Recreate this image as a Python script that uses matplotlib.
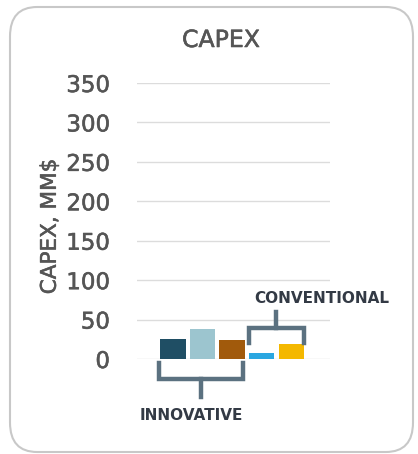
import matplotlib as mpl
mpl.use('Agg')
import matplotlib.pyplot as plt
import matplotlib.patheffects as pe
from matplotlib.patches import FancyBboxPatch

# CAPEX per option, MM$
groups = ['INNOVATIVE', 'CONVENTIONAL']
capex_innovative = [25, 38, 24]
capex_conventional = [8, 19]
colors_innovative = ['#1f4e64', '#9cc5cf', '#a15a0c']
colors_conventional = ['#2aa7e1', '#f4b800']
yticks = [0, 50, 100, 150, 200, 250, 300, 350]

W, H = 418, 454
fig = plt.figure(figsize=(W / 100, H / 100), dpi=100)
fig.patch.set_facecolor('white')

# slightly heavier strokes for the grey labels
txt_col = '#555555'
heavy = [pe.withStroke(linewidth=0.4, foreground=txt_col)]

# rounded card behind the chart
card = FancyBboxPatch((10 / W, 2 / H), 403 / W, 445 / H,
                      boxstyle='round,pad=0,rounding_size=0.065',
                      transform=fig.transFigure, facecolor='none',
                      edgecolor='#c8c8c8', linewidth=1.5, zorder=-1)
fig.patches.append(card)

ax = fig.add_axes([137 / W, (H - 359) / H, 193 / W, 276 / H])
ax.set_facecolor('none')

values = capex_innovative + capex_conventional
colors = colors_innovative + colors_conventional
xs = list(range(len(values)))
bw = 0.85
ax.bar(xs, values, width=bw, color=colors, zorder=3)

ax.set_xlim(-1.22, 5.32)
ax.set_ylim(0, 350)
ax.set_yticks(yticks)
ax.set_xticks([])
ax.grid(axis='y', color='#dcdcdc', linewidth=1, zorder=0)
for s in ax.spines.values():
    s.set_visible(False)
ax.tick_params(axis='y', length=0, pad=19.5, labelsize=16.5, labelcolor=txt_col)
for lab in ax.get_yticklabels():
    lab.set_path_effects(heavy)
ax.set_ylabel('CAPEX, MM$', fontsize=15.5, color=txt_col, path_effects=heavy)
ax.yaxis.set_label_coords(-0.40, 0.48)

bc = '#5b7180'
lw = 3.2
# innovative bracket below the axis
x0 = xs[0] - bw / 2 - 0.05
x1 = xs[2] + bw / 2 - 0.05
xm = (x0 + x1) / 2
ax.plot([x0, x0, x1, x1], [-5, -25, -25, -5], color=bc, lw=lw,
        clip_on=False, solid_joinstyle='miter', zorder=4)
ax.plot([xm, xm], [-25, -48], color=bc, lw=lw, clip_on=False, zorder=4)
ax.text(0.62, -72, groups[0], ha='center', va='center', fontsize=11,
        fontweight='bold', color='#333a45', clip_on=False)

# conventional bracket above its bars
c0 = xs[3] - bw / 2
c1 = xs[4] + bw / 2
cm = (c0 + c1) / 2
ax.plot([c0, c0, c1, c1], [20, 39, 39, 20], color=bc, lw=lw,
        clip_on=False, solid_joinstyle='miter', zorder=4)
ax.plot([cm, cm], [39, 60], color=bc, lw=lw, clip_on=False, zorder=4)
ax.text(5.05, 77, groups[1], ha='center', va='center', fontsize=11,
        fontweight='bold', color='#333a45', clip_on=False)

fig.text(221 / W, 1 - 40 / H, 'CAPEX', ha='center', va='center',
         fontsize=17, color=txt_col, path_effects=heavy)

fig.savefig('out.png', dpi=100)
